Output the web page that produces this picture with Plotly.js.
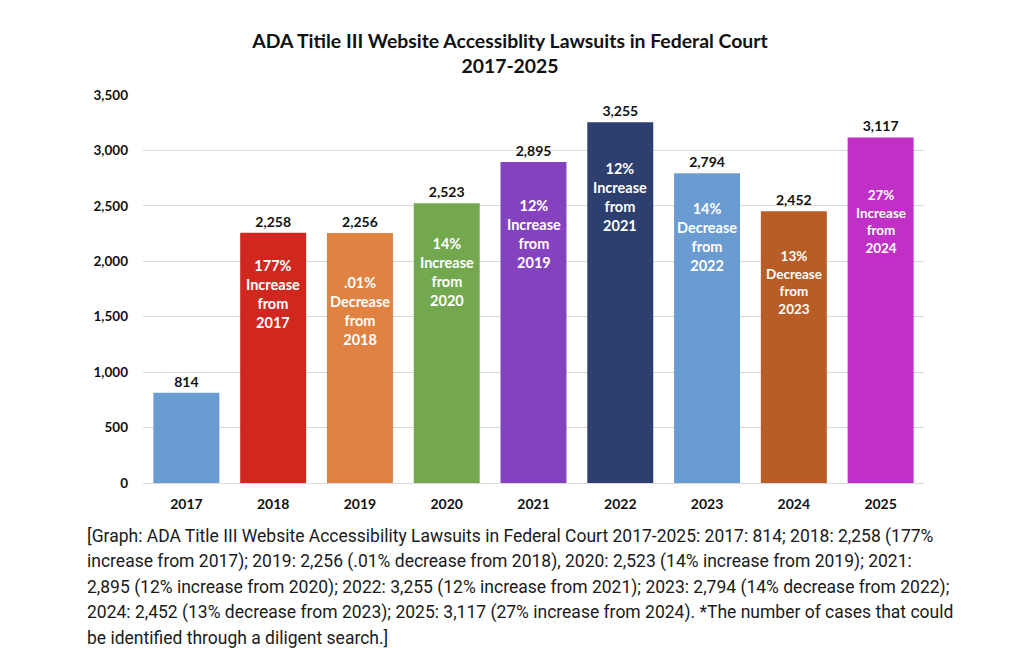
<!DOCTYPE html>
<html>
<head>
<meta charset="utf-8">
<script src="https://cdn.plot.ly/plotly-3.0.1.min.js"></script>
<style>
  html, body { margin: 0; padding: 0; background: #ffffff; }
  #chart { width: 1024px; height: 661px; }
</style>
</head>
<body>
<div id="chart"></div>
<script>
// Lawsuit counts per year
const years = ['2017', '2018', '2019', '2020', '2021', '2022', '2023', '2024', '2025'];
const lawsuits = [814, 2258, 2256, 2523, 2895, 3255, 2794, 2452, 3117];

// Year-over-year change shown inside each bar
const changePct = ['', '177%', '.01%', '14%', '12%', '12%', '14%', '13%', '27%'];
const changeDir = ['', 'Increase', 'Decrease', 'Increase', 'Increase', 'Increase', 'Decrease', 'Decrease', 'Increase'];
const changeFrom = ['', '2017', '2018', '2020', '2019', '2021', '2022', '2023', '2024'];

// Bar fill colours
const barColors = ['#6a9bd1', '#d0281f', '#e08241', '#73a84f', '#8442be', '#2c3f6e', '#6a9bd1', '#b85d27', '#c02fc6'];

// Styling: how far (px) below the bar top each inside label sits, and its size
const insideLabelDrop = [0, 61, 78, 69, 72, 75, 64, 71, 84];
const insideLabelSize = [14, 14.5, 14.5, 14.5, 14.5, 14.5, 14.5, 13.5, 13.5];

const captionLines = [
  '[Graph: ADA Title III Website Accessibility Lawsuits in Federal Court 2017-2025: 2017: 814; 2018: 2,258 (177%',
  'increase from 2017); 2019: 2,256 (.01% decrease from 2018), 2020: 2,523 (14% increase from 2019); 2021:',
  '2,895 (12% increase from 2020); 2022: 3,255 (12% increase from 2021); 2023: 2,794 (14% decrease from 2022);',
  '2024: 2,452 (13% decrease from 2023); 2025: 3,117 (27% increase from 2024). *The number of cases that could',
  'be identified through a diligent search.]'
];

const boldFont = 'Lato, "Open Sans", sans-serif';

const trace = {
  type: 'bar',
  x: years,
  y: lawsuits,
  marker: { color: barColors, line: { width: 0 } },
  texttemplate: '%{y:,}',
  textposition: 'outside',
  outsidetextfont: { family: boldFont, size: 14, color: '#111111', weight: 'bold' },
  cliponaxis: false,
  hoverinfo: 'x+y'
};

const annotations = [];
years.forEach((yr, i) => {
  if (!changePct[i]) return;
  annotations.push({
    // category axis: position by category index
    x: i, y: lawsuits[i], xref: 'x', yref: 'y',
    yanchor: 'middle', yshift: -insideLabelDrop[i],
    text: changePct[i] + '<br>' + changeDir[i] + '<br>from<br>' + changeFrom[i],
    showarrow: false,
    font: { family: boldFont, size: insideLabelSize[i], color: '#ffffff', weight: 'bold' }
  });
});

captionLines.forEach((line, i) => {
  annotations.push({
    xref: 'paper', yref: 'paper',
    x: (85 - 143) / 781, xanchor: 'left',
    y: (483 - (536 + i * 25.6)) / 388, yanchor: 'middle',
    text: line, showarrow: false, align: 'left',
    font: { family: 'Roboto, "Liberation Sans", sans-serif', size: 17.5, color: '#1a1a1a' }
  });
});

const layout = {
  width: 1024,
  height: 661,
  margin: { l: 143, r: 100, t: 95, b: 178 },
  paper_bgcolor: '#ffffff',
  plot_bgcolor: '#ffffff',
  showlegend: false,
  bargap: 0.24,
  title: {
    text: 'ADA Titile III Website Accessiblity Lawsuits in Federal Court<br>2017-2025',
    x: 510 / 1024, xref: 'container', xanchor: 'center',
    y: 1 - 48 / 661, yref: 'container', yanchor: 'top',
    font: { family: boldFont, size: 19.4, color: '#111111', weight: 'bold' }
  },
  xaxis: {
    type: 'category',
    range: [-0.5, years.length - 0.5],
    showgrid: false, showline: false, zeroline: false, ticks: '',
    tickfont: { family: boldFont, size: 14, color: '#111111', weight: 'bold' },
    ticklabelstandoff: 11,
    fixedrange: true
  },
  yaxis: {
    range: [0, 3500],
    dtick: 500,
    tickformat: ',d',
    showgrid: true, gridcolor: '#d9d9d9', gridwidth: 1,
    zeroline: true, zerolinecolor: '#d9d9d9', zerolinewidth: 1,
    showline: false, ticks: '',
    tickfont: { family: boldFont, size: 13.5, color: '#111111', weight: 'bold' },
    ticklabelstandoff: 14,
    fixedrange: true
  },
  annotations: annotations
};

Plotly.newPlot('chart', [trace], layout, { displayModeBar: false, staticPlot: true });
</script>
</body>
</html>
